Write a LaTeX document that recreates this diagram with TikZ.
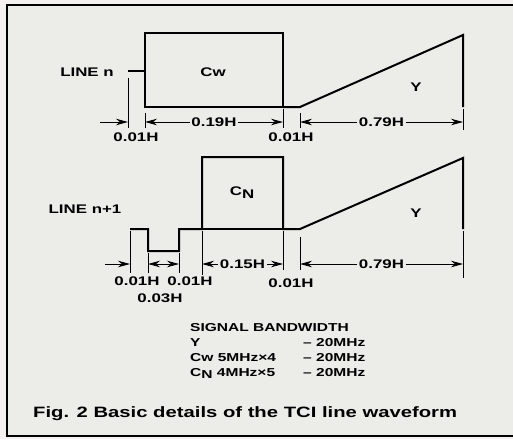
\documentclass[tikz,border=0pt]{standalone}
\usepackage{fontspec}
\newfontfamily\figfont[FakeStretch=1.35]{Liberation Sans}
\usetikzlibrary{arrows.meta,positioning}
\definecolor{paper}{RGB}{236,236,233}
\definecolor{margin}{RGB}{245,241,241}

\begin{document}
\begin{tikzpicture}[x=1pt,y=-1pt,
	wave/.style={line width=2pt, line join=miter},
	tick/.style={line width=0.7pt},
	dim/.style={line width=0.9pt, >={Stealth[length=12pt,width=6.5pt]}},
	dimlabel/.style={font=\figfont\bfseries\fontsize{12.5}{13}\selectfont, fill=paper, inner sep=1.5pt},
	label/.style={font=\figfont\bfseries\fontsize{12.5}{13}\selectfont, inner sep=0pt},
	bw/.style={font=\figfont\bfseries\fontsize{11.5}{12}\selectfont, anchor=base west, inner sep=0pt}
	]
\useasboundingbox (0,0) rectangle (513,439);
\fill[margin] (0,0) rectangle (513,439);
\draw[line width=1.6pt, fill=paper] (7,5) rectangle (520,436);

% line n
\coordinate (nA) at (128,71);
\coordinate (nB) at (145,71);
\coordinate (nC) at (145,33);
\coordinate (nD) at (283,33);
\coordinate (nE) at (283,107);
\coordinate (nF) at (145,107);
\coordinate (nG) at (300,107);
\coordinate (nH) at (463,35);
\coordinate (nI) at (463,107);

\draw[wave] (nA) -- (nB);
\draw[wave] (nF) -- (nC) -- (nD) -- (nE) -- cycle;
\draw[wave] (nE) -- (nG) -- (nH) -- (nI);

\node[label] (linen) at (87,72)  {LINE n};
\node[label] (cw)    at (213,72) {Cw};
\node[label] (yn)    at (416,87) {Y};

\draw[tick] (128,78) -- (128,128);
\draw[tick] (145,113) -- (145,128);
\draw[tick] (283,109) -- (283,128);
\draw[tick] (300,113) -- (300,128);
\draw[tick] (463,109) -- (463,130);

\coordinate (nd0) at (100,122);
\coordinate (nd1) at (128,122);
\coordinate (nd2) at (145,122);
\coordinate (nd3) at (283,122);
\coordinate (nd4) at (300,122);
\coordinate (nd5) at (463,122);

\draw[dim,->]  (nd0) -- (nd1);
\draw[dim,<->] (nd2) -- node[dimlabel] {0.19H} (nd3);
\draw[dim,<->] (nd4) -- node[dimlabel] {0.79H} (nd5);

\node[label] (na) at (136,137) {0.01H};
\node[label] (nb) at (291,137) {0.01H};

% line n+1
\coordinate (mA) at (130,229);
\coordinate (mB) at (148,229);
\coordinate (mC) at (148,251);
\coordinate (mD) at (179,251);
\coordinate (mE) at (179,229);
\coordinate (mF) at (202,229);
\coordinate (mG) at (202,157);
\coordinate (mH) at (283,157);
\coordinate (mI) at (283,229);
\coordinate (mJ) at (300,229);
\coordinate (mK) at (463,158);
\coordinate (mL) at (463,229);

\draw[wave] (mA) -- (mB) -- (mC) -- (mD) -- (mE) -- (mF) -- (mG) -- (mH) -- (mI) -- (mJ) -- (mK) -- (mL);
\draw[wave] (mF) -- (mI);

\node[label] (linem) at (85,209)  {LINE n+1};
\node[label] (cn)    at (242,193) {C\raisebox{-0.45ex}{N}};
\node[label] (ym)    at (416,213) {Y};

\draw[tick] (130,231) -- (130,273);
\draw[tick] (148,253) -- (148,273);
\draw[tick] (179,253) -- (179,273);
\draw[tick] (202,231) -- (202,275);
\draw[tick] (283,231) -- (283,270);
\draw[tick] (300,237) -- (300,270);
\draw[tick] (463,231) -- (463,278);

\coordinate (md0) at (105,264);
\coordinate (md1) at (130,264);
\coordinate (md2) at (148,264);
\coordinate (md3) at (179,264);
\coordinate (md4) at (202,264);
\coordinate (md5) at (283,264);
\coordinate (md6) at (300,264);
\coordinate (md7) at (463,264);

\draw[dim,->]  (md0) -- (md1);
\draw[dim,<->] (md2) -- (md3);
\draw[dim,<->] (md4) -- node[dimlabel] {0.15H} (md5);
\draw[dim,<->] (md6) -- node[dimlabel] {0.79H} (md7);

\node[label] (ma) at (137,281) {0.01H};
\node[label] (mb) at (190,281) {0.01H};
\node[label] (mc) at (160,298) {0.03H};
\node[label] (md) at (291,283) {0.01H};

% bandwidth table
\node[bw] (bwhead) at (190,331) {SIGNAL BANDWIDTH};
\node[bw] (bwy)    at (190,346) {Y};
\node[bw] (bwcw)   at (190,361) {Cw 5MHz×4};
\node[bw] (bwcn)   at (190,376) {C\raisebox{-0.45ex}{N} 4MHz×5};
\node[bw] (bwy2)   at (303,346) {–\ 20MHz};
\node[bw] (bwcw2)  at (303,361) {–\ 20MHz};
\node[bw] (bwcn2)  at (303,376) {–\ 20MHz};

\node[font=\figfont\bfseries\fontsize{15}{16}\selectfont, anchor=base west, inner sep=0pt] (caption) at (33,417)
  {Fig. 2 Basic details of the TCI line waveform};
\end{tikzpicture}
\end{document}
